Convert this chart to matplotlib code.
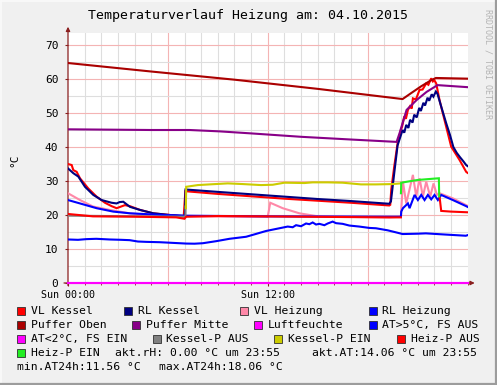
import matplotlib
matplotlib.use("Agg")
import matplotlib.pyplot as plt
from matplotlib.patches import Rectangle
import numpy as np

plt.rcParams['font.family'] = ['DejaVu Sans Mono']

# ---------------- data (hours since Sun 00:00, °C) ----------------
vl_kessel_h = [0, 0.22, 0.32, 0.52, 0.72, 1.22, 1.72, 2.22, 2.62, 2.92, 3.42, 3.72, 4.32, 5.12, 6.12, 6.95,
               7.05, 9.0, 11.0, 13.0, 15.0, 17.0, 19.3, 19.36, 19.42, 19.60, 19.80, 20.0, 20.07, 20.2, 20.3,
               20.42, 20.55, 20.65, 20.72, 20.9, 21.12, 21.3, 21.52, 21.65, 21.82, 21.92, 22.0, 22.12, 22.32,
               22.62, 23.02, 23.52, 23.92, 24.0]
vl_kessel_v = [35.0, 34.7, 33.2, 32.7, 30.8, 27.8, 25.4, 23.6, 22.6, 22.0, 22.9, 22.6, 21.5, 20.5, 20.0, 19.5,
               27.0, 26.2, 25.5, 24.8, 24.2, 23.6, 22.8, 23.0, 27.5, 34.3, 41.1, 45.0, 46.0, 49.0, 48.3,
               50.9, 52.0, 51.3, 54.3, 54.0, 56.8, 56.9, 58.7, 58.3, 60.2, 59.3, 59.7, 58.7, 53.8,
               47.9, 40.1, 36.2, 32.7, 32.4]

rl_kessel_h = [0, 0.32, 0.62, 1.02, 1.52, 2.02, 2.62, 2.92, 3.1, 3.32, 3.72, 4.32, 5.12, 6.12, 7.02,
               7.06, 9.0, 11.0, 13.0, 15.0, 17.0, 19.3, 19.40, 19.62, 19.80, 20.0, 20.10, 20.2, 20.32,
               20.45, 20.55, 20.7, 20.8, 20.95, 21.1, 21.2, 21.35, 21.45, 21.6, 21.7, 21.85, 21.95, 22.1,
               22.2, 22.42, 22.72, 22.95, 23.15, 23.35, 23.55, 23.75, 23.92, 24.0]
rl_kessel_v = [33.7, 32.3, 31.3, 28.3, 25.9, 24.4, 23.6, 23.4, 23.8, 23.9, 22.4, 21.5, 20.5, 20.0, 19.7,
               27.5, 26.8, 26.1, 25.4, 24.7, 24.1, 23.3, 24.0, 33.2, 40.5, 43.5, 45.0, 44.2, 46.5,
               45.6, 48.0, 47.2, 49.5, 48.7, 51.5, 50.6, 53.0, 52.2, 54.5, 53.6, 55.5, 54.8, 56.3,
               55.6, 51.9, 47.0, 43.5, 40.0, 38.3, 37.0, 35.8, 34.7, 34.4]

vl_heizung_h = [0, 0.72, 1.5, 2.5, 3.7, 5.0, 7.0, 12.0, 12.15, 12.9, 13.9, 14.9, 16.0, 19.3, 20.0, 20.02,
                20.12, 20.32, 20.72, 20.92, 21.12, 21.32, 21.52, 21.76, 21.96, 22.16, 22.32, 23.12, 23.92, 24.0]
vl_heizung_v = [26.4, 24.4, 22.5, 21.5, 20.5, 20.0, 19.6, 19.5, 23.6, 22.0, 20.5, 19.7, 19.5, 19.3, 19.5, 21.5,
                29.8, 23.4, 31.8, 25.4, 30.8, 25.4, 29.8, 25.4, 29.3, 25.9, 26.4, 24.9, 22.9, 22.7]

rl_heizung_h = [0, 0.72, 1.72, 2.72, 3.72, 5.72, 7.02, 12.0, 19.3, 20.0, 20.02, 20.12, 20.42, 20.52, 20.82,
                21.02, 21.22, 21.42, 21.62, 21.82, 22.02, 22.22, 22.42, 23.12, 23.92, 24.0]
rl_heizung_v = [24.4, 23.4, 22.0, 21.0, 20.5, 20.0, 19.8, 19.6, 19.5, 19.5, 21.0, 22.0, 23.4, 22.0, 25.9,
                24.4, 25.9, 24.4, 25.9, 24.6, 25.9, 24.4, 25.9, 24.4, 22.6, 22.4]

puffer_oben_h = [0, 5.0, 10.0, 15.0, 20.1, 20.6, 21.2, 21.8, 22.1, 24.0]
puffer_oben_v = [64.7, 62.2, 59.8, 57.1, 54.1, 55.8, 57.8, 59.6, 60.3, 60.1]

puffer_mitte_h = [0, 5.0, 7.3, 9.1, 11.0, 14.0, 17.0, 19.74, 19.92, 20.34, 20.94, 21.54, 22.2, 24.0]
puffer_mitte_v = [45.2, 45.0, 45.0, 44.6, 44.0, 43.0, 42.2, 41.5, 44.1, 50.9, 53.8, 56.2, 58.2, 57.6]

luftfeuchte_h = [0, 24.0]
luftfeuchte_v = [0.0, 0.0]

at_h = [0, 0.6, 1.1, 1.7, 2.5, 3.2, 3.7, 4.2, 4.7, 5.5, 6.3, 7.1, 7.6, 8.1, 8.9, 9.7, 10.7, 11.2, 11.9,
        12.4, 12.9, 13.2, 13.5, 13.7, 14.0, 14.3, 14.5, 14.7, 14.9, 15.1, 15.4, 15.6, 15.9, 16.1, 16.5,
        16.9, 17.5, 18.1, 18.5, 19.2, 19.7, 20.1, 21.0, 21.5, 22.5, 23.2, 23.9, 24.0]
at_v = [12.8, 12.7, 12.9, 13.0, 12.8, 12.7, 12.6, 12.2, 12.1, 12.0, 11.8, 11.6, 11.56, 11.7, 12.3, 13.0,
        13.6, 14.3, 15.3, 15.8, 16.3, 16.6, 16.4, 17.0, 16.7, 17.5, 17.3, 17.8, 17.2, 17.4, 17.0, 17.5,
        18.06, 17.6, 17.4, 16.9, 16.6, 16.2, 16.1, 15.5, 14.9, 14.4, 14.5, 14.6, 14.3, 14.1, 13.9, 14.06]

at_low_h = [0, 24.0]
at_low_v = [0.0, 0.0]

kessel_p_aus_h = [0, 7.06, 7.06]
kessel_p_aus_v = [19.8, 19.5, 22.5]

kessel_p_ein_h = [7.08, 7.10, 7.8, 8.5, 9.6, 10.5, 11.6, 12.3, 13.0, 14.2, 14.7, 15.6, 16.5, 17.6, 18.5, 19.5, 20.0]
kessel_p_ein_v = [22.0, 28.3, 28.8, 29.0, 29.3, 29.1, 28.8, 28.9, 29.5, 29.4, 29.6, 29.6, 29.5, 29.0, 29.0, 29.1, 29.3]

heiz_p_aus_h = [0, 1.5, 4.0, 6.5, 7.0, 7.1, 9.0, 14.0, 19.3, 20.0, np.nan, 22.33, 22.42, 23.0, 24.0]
heiz_p_aus_v = [20.3, 19.6, 19.5, 19.3, 18.9, 19.5, 19.7, 19.5, 19.3, 19.3, np.nan, 25.0, 21.2, 21.0, 20.8]

heiz_p_ein_h = [20.0, 20.02, 20.5, 21.0, 21.5, 22.0, 22.28, 22.30]
heiz_p_ein_v = [26.4, 29.5, 29.9, 30.3, 30.5, 30.7, 30.8, 25.5]

x_tick_labels = ["Sun 00:00", "Sun 12:00"]
x_tick_pos = [0, 12]
y_ticks = [0, 10, 20, 30, 40, 50, 60, 70]

series = [
    ("VL Kessel", vl_kessel_h, vl_kessel_v, "#ff0000"),
    ("RL Kessel", rl_kessel_h, rl_kessel_v, "#000080"),
    ("VL Heizung", vl_heizung_h, vl_heizung_v, "#ff88a8"),
    ("RL Heizung", rl_heizung_h, rl_heizung_v, "#0000ff"),
    ("Puffer Oben", puffer_oben_h, puffer_oben_v, "#aa0000"),
    ("Puffer Mitte", puffer_mitte_h, puffer_mitte_v, "#880088"),
    ("Luftfeuchte", luftfeuchte_h, luftfeuchte_v, "#ff00ff"),
    ("AT>5°C, FS AUS", at_h, at_v, "#0000ff"),
    ("AT<2°C, FS EIN", at_low_h, at_low_v, "#ff00ff"),
    ("Kessel-P AUS", kessel_p_aus_h, kessel_p_aus_v, "#808080"),
    ("Kessel-P EIN", kessel_p_ein_h, kessel_p_ein_v, "#cccc00"),
    ("Heiz-P AUS", heiz_p_aus_h, heiz_p_aus_v, "#ff0000"),
    ("Heiz-P EIN", heiz_p_ein_h, heiz_p_ein_v, "#22ee22"),
]
colors = {s[0]: s[3] for s in series}

# ---------------- figure ----------------
W, H = 497, 385
fig = plt.figure(figsize=(W / 100, H / 100), dpi=100)
fig.patch.set_facecolor("#f0f0f0")

L, R, T, B = 68, 467.5, 33, 283
ax = fig.add_axes([L / W, (H - B) / H, (R - L) / W, (B - T) / H])
ax.set_facecolor("white")
ymax = (B - T) / 3.4
ax.set_xlim(0, 24)
ax.set_ylim(0, ymax)
for sp in ax.spines.values():
    sp.set_visible(False)

minor_c = "#dedede"
major_c = "#f4b4b4"
for h in range(1, 24):
    ax.axvline(h, color=major_c if h % 6 == 0 else minor_c, lw=0.8, zorder=0.5)
for v in range(5, 75, 5):
    if v <= ymax:
        ax.axhline(v, color=major_c if v % 10 == 0 else minor_c, lw=0.8, zorder=0.5)

axis_c = "#8a1f1f"
for i, (name, hh, vv, c) in enumerate(series):
    ax.plot(hh, vv, color=c, lw=1.5, zorder=2 + i * 0.01,
            clip_on=(name not in ("Luftfeuchte", "AT<2°C, FS EIN")),
            solid_joinstyle="miter")

# axes lines with arrows
ax.annotate("", xy=(0, 1.025), xytext=(0, -0.01), xycoords="axes fraction",
            arrowprops=dict(arrowstyle="-|>", color=axis_c, lw=0.9, mutation_scale=6,
                            shrinkA=0, shrinkB=0), zorder=1.5, annotation_clip=False)
ax.annotate("", xy=(1.018, 0), xytext=(-0.01, 0), xycoords="axes fraction",
            arrowprops=dict(arrowstyle="-|>", color=axis_c, lw=0.9, mutation_scale=6,
                            shrinkA=0, shrinkB=0), zorder=1.5, annotation_clip=False)

ax.set_yticks(y_ticks)
ax.set_yticklabels([str(t) for t in y_ticks], fontsize=8)
ax.set_xticks(x_tick_pos)
ax.set_xticklabels(x_tick_labels, fontsize=7.2)
ax.set_xticks(np.arange(0, 25, 1), minor=True)
ax.tick_params(axis="both", which="major", length=2, width=0.8, color=axis_c, pad=3)
ax.tick_params(axis="x", which="minor", length=1.5, width=0.6, color=axis_c)
ax.tick_params(axis="y", pad=5)

# ---------------- overlay for texts in pixel coords ----------------
ov = fig.add_axes([0, 0, 1, 1], facecolor="none")
ov.set_xlim(0, W)
ov.set_ylim(H, 0)
ov.axis("off")

ov.text(247.5, 15.5, "Temperaturverlauf Heizung am: 04.10.2015", ha="center", va="center", fontsize=9.5)
ov.text(488, 64, "RRDTOOL / TOBI OETIKER", ha="center", va="center", rotation=270,
        fontsize=6, color="#b4b4b4")
ov.text(14, 160, "°C", ha="center", va="center", rotation=90, fontsize=8)

legend_rows = [
    (311, [(16.7, "VL Kessel"), (124, "RL Kessel"), (240, "VL Heizung"), (368.5, "RL Heizung")]),
    (325, [(16.7, "Puffer Oben"), (132, "Puffer Mitte"), (254, "Luftfeuchte"), (368.5, "AT>5°C, FS AUS")]),
    (339, [(16.7, "AT<2°C, FS EIN"), (152.5, "Kessel-P AUS"), (274, "Kessel-P EIN"), (396.7, "Heiz-P AUS")]),
    (353, [(16.7, "Heiz-P EIN")]),
]
fs_leg = 8.2
for y, entries in legend_rows:
    for bx, name in entries:
        ov.add_patch(Rectangle((bx, y - 4.2), 8.4, 8.4, facecolor=colors[name],
                               edgecolor="#303030", lw=0.6))
        ov.text(bx + 14, y, name, ha="left", va="center", fontsize=fs_leg)

ov.text(115, 353, "akt.rH: 0.00 °C um 23:55", ha="left", va="center", fontsize=fs_leg)
ov.text(312, 353, "akt.AT:14.06 °C um 23:55", ha="left", va="center", fontsize=fs_leg)
ov.text(16.7, 367, "min.AT24h:11.56 °C", ha="left", va="center", fontsize=fs_leg)
ov.text(159, 367, "max.AT24h:18.06 °C", ha="left", va="center", fontsize=fs_leg)

# frame shading
ov.plot([0.5, W - 1], [0.5, 0.5], color="#fafafa", lw=1.2)
ov.plot([0.5, 0.5], [0.5, H - 1], color="#fafafa", lw=1.2)
ov.plot([0, W], [H - 1, H - 1], color="#9c9c9c", lw=1.6)
ov.plot([W - 1, W - 1], [0, H], color="#9c9c9c", lw=1.6)

fig.savefig("out.png", dpi=100, facecolor=fig.get_facecolor())
